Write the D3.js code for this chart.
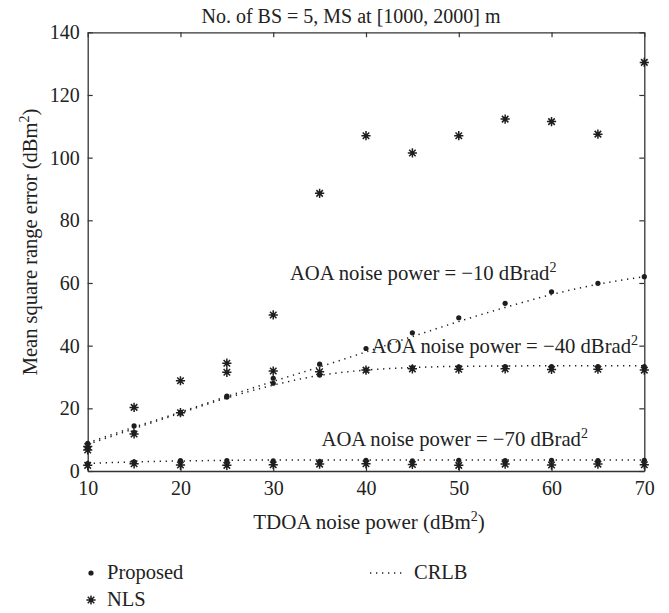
<!DOCTYPE html>
<html><head><meta charset="utf-8">
<script src="https://cdn.jsdelivr.net/npm/d3@7"></script>
<style>
body{margin:0;background:#fff;}
text{font-family:"Liberation Serif","Times New Roman",serif;fill:#222;}
</style></head>
<body><svg id="c" width="669" height="613"></svg>
<script>
const xValues = [10,15,20,25,30,35,40,45,50,55,60,65,70];
const xTicks = [10,20,30,40,50,60,70];
const yTicks = [0,20,40,60,80,100,120,140];

const proposed10 = [8.8,14.4,18.7,23.9,29.6,34.1,39.1,44.1,48.9,53.5,57.2,59.9,62.0];
const nls10      = [7.8,20.3,28.8,34.4,49.8,88.6,107.0,101.5,107.0,112.3,111.5,107.5,130.4];
const crlb10     = [9.0,14.0,18.8,23.8,28.6,33.2,38.0,42.9,47.7,52.2,56.3,59.6,62.0];

const proposed40 = [7.3,12.3,18.5,23.6,28.0,30.6,32.2,33.0,33.2,33.3,33.3,33.3,33.3];
const nls40      = [6.7,11.8,18.6,31.5,31.9,31.7,32.2,32.6,32.5,32.6,32.4,32.5,32.2];
const crlb40     = [8.5,13.5,18.5,23.3,27.4,30.5,32.2,33.0,33.4,33.5,33.6,33.6,33.6];

const proposed70 = [2.4,2.9,3.3,3.3,3.2,3.1,3.4,3.2,3.4,3.3,3.4,3.3,3.4];
const nls70      = [1.8,2.3,1.9,1.8,2.0,2.2,2.3,2.1,1.8,2.2,1.9,2.2,2.0];
const crlb70     = [2.4,2.9,3.2,3.4,3.5,3.5,3.5,3.5,3.5,3.5,3.5,3.5,3.5];

const annotations = [
  {text:"AOA noise power = −10 dBrad", x:31.8, y:60.8},
  {text:"AOA noise power = −40 dBrad", x:40.6, y:37.7},
  {text:"AOA noise power = −70 dBrad", x:35.2, y:8.0}
];

const L=87.7,R=644.3,T=32.3,B=471;
const ink="#1e1e1e";
const svg=d3.select("#c");
const x=d3.scaleLinear().domain([10,70]).range([L,R]);
const y=d3.scaleLinear().domain([0,140]).range([B,T]);

function styleAxis(g){
  g.selectAll(".domain").attr("stroke","#333").attr("stroke-width",1.3);
  g.selectAll(".tick line").attr("stroke","#333").attr("stroke-width",1.2);
  g.selectAll("text").attr("font-size",20).attr("font-family","Liberation Serif").attr("fill","#222");
}
svg.append("g").attr("transform",`translate(0,${B})`)
  .call(d3.axisBottom(x).tickValues(xTicks).tickSize(-5).tickSizeOuter(0).tickPadding(10))
  .call(styleAxis);
svg.append("g").attr("transform",`translate(0,${T})`)
  .call(d3.axisTop(x).tickValues(xTicks).tickSize(-5).tickSizeOuter(0).tickFormat(""))
  .call(styleAxis);
svg.append("g").attr("transform",`translate(${L},0)`)
  .call(d3.axisLeft(y).tickValues(yTicks).tickSize(-5).tickSizeOuter(0).tickPadding(8))
  .call(styleAxis);
svg.append("g").attr("transform",`translate(${R},0)`)
  .call(d3.axisRight(y).tickValues(yTicks).tickSize(-5).tickSizeOuter(0).tickFormat(""))
  .call(styleAxis);

const line=d3.line().x((d,i)=>x(xValues[i])).y(d=>y(d)).curve(d3.curveMonotoneX);
[crlb10,crlb40,crlb70].forEach(s=>{
  svg.append("path").attr("d",line(s)).attr("fill","none").attr("stroke",ink)
    .attr("stroke-width",1.5).attr("stroke-dasharray","1.3,4.7").attr("stroke-linecap","butt");
});

function star(g,cx,cy,r){
  const a=r*0.7071;
  g.append("path").attr("d",`M${cx-r},${cy}L${cx+r},${cy}M${cx},${cy-r}L${cx},${cy+r}M${cx-a},${cy-a}L${cx+a},${cy+a}M${cx-a},${cy+a}L${cx+a},${cy-a}`)
   .attr("stroke",ink).attr("stroke-width",1.5).attr("fill","none");
  g.append("circle").attr("cx",cx).attr("cy",cy).attr("r",1.8).attr("fill",ink);
}
const marks=svg.append("g");
[nls10,nls40,nls70].forEach(s=>s.forEach((v,i)=>star(marks,x(xValues[i]),y(v),4.6)));
[proposed10,proposed40,proposed70].forEach(s=>s.forEach((v,i)=>{
  marks.append("circle").attr("cx",x(xValues[i])).attr("cy",y(v)).attr("r",2.6).attr("fill",ink);
}));

annotations.forEach(a=>{
  const t=svg.append("text").attr("x",x(a.x)).attr("y",y(a.y)).attr("font-size",20.7).text(a.text);
  t.append("tspan").attr("dy",-8).attr("font-size",14).text("2");
});

svg.append("text").attr("x",351).attr("y",23).attr("text-anchor","middle").attr("font-size",20)
  .text("No. of BS = 5, MS at [1000, 2000] m");

const xl=svg.append("text").attr("x",369).attr("y",529).attr("text-anchor","middle").attr("font-size",21)
  .text("TDOA noise power (dBm");
xl.append("tspan").attr("dy",-8).attr("font-size",14).text("2");
xl.append("tspan").attr("dy",8).text(")");

const yl=svg.append("text").attr("transform","translate(37,242) rotate(-90)").attr("text-anchor","middle").attr("font-size",20.5)
  .text("Mean square range error (dBm");
yl.append("tspan").attr("dy",-8).attr("font-size",14).text("2");
yl.append("tspan").attr("dy",8).text(")");

const lg=svg.append("g");
lg.append("circle").attr("cx",91).attr("cy",573).attr("r",2.6).attr("fill",ink);
lg.append("text").attr("x",107).attr("y",579).attr("font-size",20.5).text("Proposed");
star(lg,91,600,4.6);
lg.append("text").attr("x",107).attr("y",606).attr("font-size",20.5).text("NLS");
lg.append("line").attr("x1",370).attr("x2",402).attr("y1",573).attr("y2",573)
  .attr("stroke",ink).attr("stroke-width",1.5).attr("stroke-dasharray","1.3,4.7");
lg.append("text").attr("x",414).attr("y",579).attr("font-size",20.5).text("CRLB");
</script></body></html>
